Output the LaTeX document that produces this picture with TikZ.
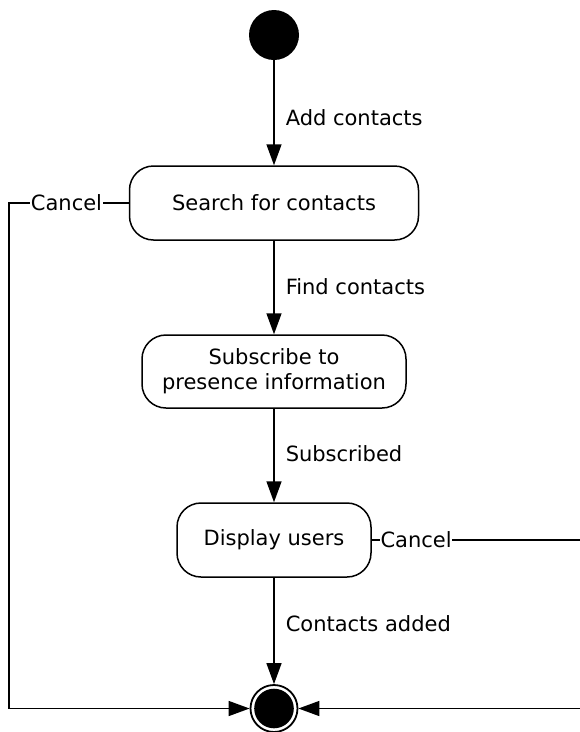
\documentclass[tikz,border=0pt]{standalone}
\usepackage{fontspec}
\setmainfont{DejaVu Sans}
\usetikzlibrary{arrows.meta}
\begin{document}
\begin{tikzpicture}[x=1pt,y=-1pt,
  every node/.style={font=\fontsize{21}{25}\selectfont},
  state/.style={draw, line width=1.5pt, rounded corners=24pt, align=center, inner sep=0pt},
  arr/.style={line width=1.5pt, -{Triangle[length=21pt,width=15pt]}},
  lbl/.style={inner sep=0pt, anchor=west, xshift=11pt},
  cut/.style={fill=white, inner sep=0.6pt}]
\useasboundingbox (0,0) rectangle (580,732);
% states
\node[circle, fill=black, minimum size=50pt, inner sep=0pt] (init) at (274,35) {};
\node[state, minimum width=289pt, minimum height=74pt] (search) at (274,203) {Search for contacts};
\node[state, minimum width=264pt, minimum height=73pt] (sub) at (274,371.5) {Subscribe to\\presence information};
\node[state, minimum width=194pt, minimum height=74pt] (disp) at (274,540) {Display users};
\node[circle, draw, line width=1.8pt, minimum size=47pt, inner sep=0pt,
  path picture={\fill[black] (path picture bounding box.center) circle (19.8pt);}] (final) at (274,708.5) {};
% helper coordinates for the cancel routes
\coordinate (lx) at (9,0);
\coordinate (rx) at (583,0);
% transitions
\draw[arr] (init) -- node[lbl, pos=0.55] {Add contacts} (search);
\draw[arr] (search) -- node[lbl, pos=0.49] {Find contacts} (sub);
\draw[arr] (sub) -- node[lbl, pos=0.48] {Subscribed} (disp);
\draw[arr] (disp) -- node[lbl, pos=0.43] {Contacts added} (final);
\draw[arr] (search.west) -- node[cut, pos=0.52] {Cancel} (search.west -| lx) |- (final.west);
\draw[arr] (disp.east) -- node[cut, pos=0.21] {Cancel} (disp.east -| rx) |- (final.east);
\end{tikzpicture}
\end{document}
